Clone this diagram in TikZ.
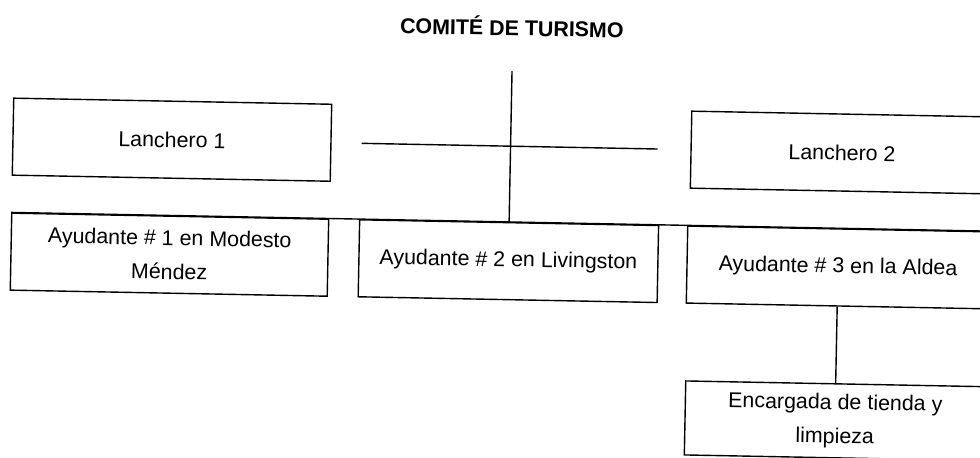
\documentclass[tikz,border=0pt]{standalone}
\usepackage{fontspec}
\setmainfont{Liberation Sans}
\usetikzlibrary{positioning}
\tikzstyle{Cargo}=[draw=black,line width=0.7pt,inner sep=0pt,align=center,
                   minimum height=38.5pt,font=\fontsize{10.7}{17}\selectfont]
\tikzstyle{Ctitulo}=[font=\fontsize{10.7}{13}\selectfont\bfseries]
\tikzstyle{lineas}=[every edge/.style={draw=black,line width=0.7pt,-}]

\begin{document}
\begin{tikzpicture}[lineas,x=0.5pt,y=-0.5pt]
\useasboundingbox (0,0) rectangle (980,457);

\begin{scope}[rotate around={-1.1:(500,230)},transform shape]
\node[Ctitulo] (comite) at (508,26) {COMITÉ DE TURISMO};
\coordinate (bajada) at (509,71);
\coordinate (hizq) at (360,146);
\coordinate (hder) at (656,146);

\node[Cargo,minimum width=159pt] (l1) at (170.3,146) {Lanchero 1};
\node[Cargo,minimum width=151pt] (l2) at (840.5,146) {Lanchero 2};

\node[Cargo,minimum width=158.5pt] (ay1) at (170,261)
  {Ayudante \# 1 en Modesto\\Méndez};
\node[Cargo,minimum width=149.5pt,right of=ay1,node distance=169.5pt] (ay2)
  {Ayudante \# 2 en Livingston};
\node[Cargo,minimum width=151pt,right of=ay2,node distance=164.85pt] (ay3)
  {Ayudante \# 3 en la Aldea};
\node[Cargo,minimum width=150pt,minimum height=37pt,below of=ay3,
      node distance=76.7pt] (enc) {Encargada de tienda y\\limpieza};

\path
(bajada) edge (ay2.north)
(hizq) edge (hder)
(ay1.north west) edge (ay3.north east)
(ay3.south) edge (enc.north)
;
\end{scope}

\end{tikzpicture}
\end{document}
